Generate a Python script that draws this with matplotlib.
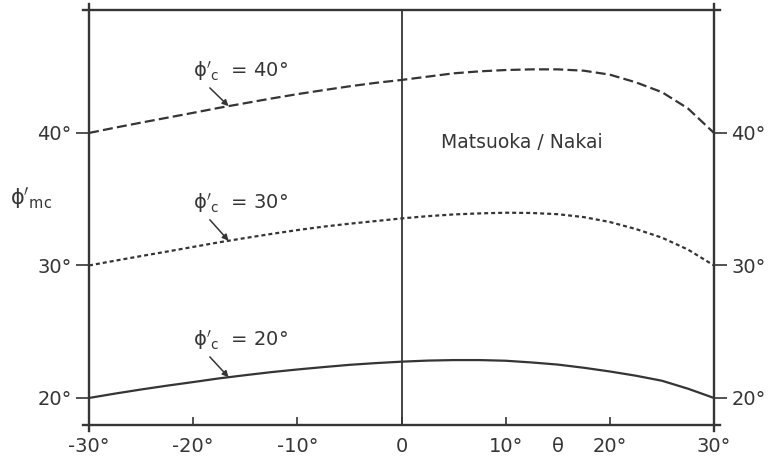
import numpy as np
import matplotlib
matplotlib.use("Agg")
import matplotlib.pyplot as plt

plt.rcParams['font.family'] = ['DejaVu Sans']
plt.rcParams['mathtext.fontset'] = 'dejavusans'

# Lode angle theta (degrees)
theta = [-30, -27.5, -25, -22.5, -20, -17.5, -15, -12.5, -10, -7.5, -5, -2.5, 0,
         2.5, 5, 7.5, 10, 12.5, 15, 17.5, 20, 22.5, 25, 27.5, 30]

# Mobilised friction angle phi'_mc for the Matsuoka/Nakai criterion
phi_40 = [40.0, 40.40, 40.78, 41.15, 41.52, 41.90, 42.25, 42.60, 42.93, 43.23, 43.52, 43.78, 44.0,
          44.25, 44.50, 44.65, 44.75, 44.80, 44.80, 44.70, 44.40, 43.82, 43.08, 41.85, 40.0]
phi_30 = [30.0, 30.36, 30.71, 31.05, 31.40, 31.75, 32.07, 32.38, 32.67, 32.93, 33.15, 33.35, 33.55,
          33.72, 33.85, 33.93, 33.98, 33.96, 33.87, 33.65, 33.28, 32.75, 32.10, 31.20, 30.0]
phi_20 = [20.0, 20.33, 20.64, 20.93, 21.20, 21.48, 21.72, 21.95, 22.15, 22.33, 22.50, 22.63, 22.74,
          22.82, 22.86, 22.86, 22.81, 22.68, 22.52, 22.28, 22.00, 21.68, 21.30, 20.70, 20.0]

curve_labels = ["40°", "30°", "20°"]
x_ticks = [-30, -20, -10, 0, 10, 20, 30]
x_ticklabels = ["-30°", "-20°", "-10°", "0", "10°", "20°", "30°"]
y_ticks = [20, 30, 40]
y_ticklabels = ["20°", "30°", "40°"]

ink = "#353535"

fig = plt.figure(figsize=(7.78, 4.62), dpi=100)
ax = fig.add_axes([89 / 778, 37 / 462, 625 / 778, 415 / 462])
ax.set_xlim(-30, 30)
ax.set_ylim(17.96, 49.28)
for s in ax.spines.values():
    s.set_visible(False)

# frame lines, slightly overshooting at the corners
ox, oy = 0.6, 0.45
ylo, yhi = ax.get_ylim()
lw_frame = 1.7
ax.plot([-30, -30], [ylo - oy, yhi + oy], color=ink, lw=lw_frame, clip_on=False)
ax.plot([30, 30], [ylo - oy, yhi + oy], color=ink, lw=lw_frame, clip_on=False)
ax.plot([0, 0], [ylo, yhi], color=ink, lw=1.3, clip_on=False)
ax.plot([-30 - ox, 30 + ox], [ylo, ylo], color=ink, lw=lw_frame, clip_on=False)
ax.plot([-30 - ox, 30 + ox], [yhi, yhi], color=ink, lw=lw_frame, clip_on=False)

# curves
ax.plot(theta, phi_40, color=ink, lw=1.6, dashes=(4.5, 1.9))
ax.plot(theta, phi_30, color=ink, lw=1.6, dashes=(1.8, 1.35))
ax.plot(theta, phi_20, color=ink, lw=1.6)

# ticks
ax.set_xticks(x_ticks)
ax.set_xticklabels(x_ticklabels)
ax.set_yticks(y_ticks)
ax.set_yticklabels(y_ticklabels)
ax.tick_params(axis='x', direction='in', length=5.8, width=1.2, color=ink,
               pad=9, labelsize=14, labelcolor=ink)
ax.tick_params(axis='y', direction='out', length=9.4, width=1.2, color=ink,
               pad=3, labelsize=14, labelcolor=ink, left=True, right=True,
               labelleft=True, labelright=True)

# theta axis label placed between the 10 and 20 degree ticks
ax.annotate("θ", xy=(15, ylo), xytext=(0, -9), textcoords='offset points',
            ha='center', va='top', fontsize=14, color=ink, annotation_clip=False)

# y-axis label
fig.text(31 / 778, 1 - 198 / 462, r"$\mathrm{\phi}'_{\mathrm{mc}}$", ha='center', va='center',
         fontsize=15, color=ink)

ax.text(3.8, 39.3, "Matsuoka / Nakai", ha='left', va='center', fontsize=13.5, color=ink)

# curve labels with leader arrows
label_y = [44.7, 34.68, 24.38]
arrow_start_y = [43.4, 33.45, 23.1]
arrow_x = -16.6
for lab, series, ly, ay in zip(curve_labels, [phi_40, phi_30, phi_20], label_y, arrow_start_y):
    ax.text(-20.0, ly, r"$\mathrm{\phi}'_{\mathrm{c}}$" + "  = " + lab, ha='left', va='center',
            fontsize=14, color=ink)
    target = (arrow_x, float(np.interp(arrow_x, theta, series)))
    ax.annotate("", xy=target, xytext=(-18.4, ay),
                arrowprops=dict(arrowstyle='-|>', color=ink, lw=1.1,
                                mutation_scale=9, shrinkA=0, shrinkB=0))

fig.savefig("out.png", dpi=100, facecolor="white")
